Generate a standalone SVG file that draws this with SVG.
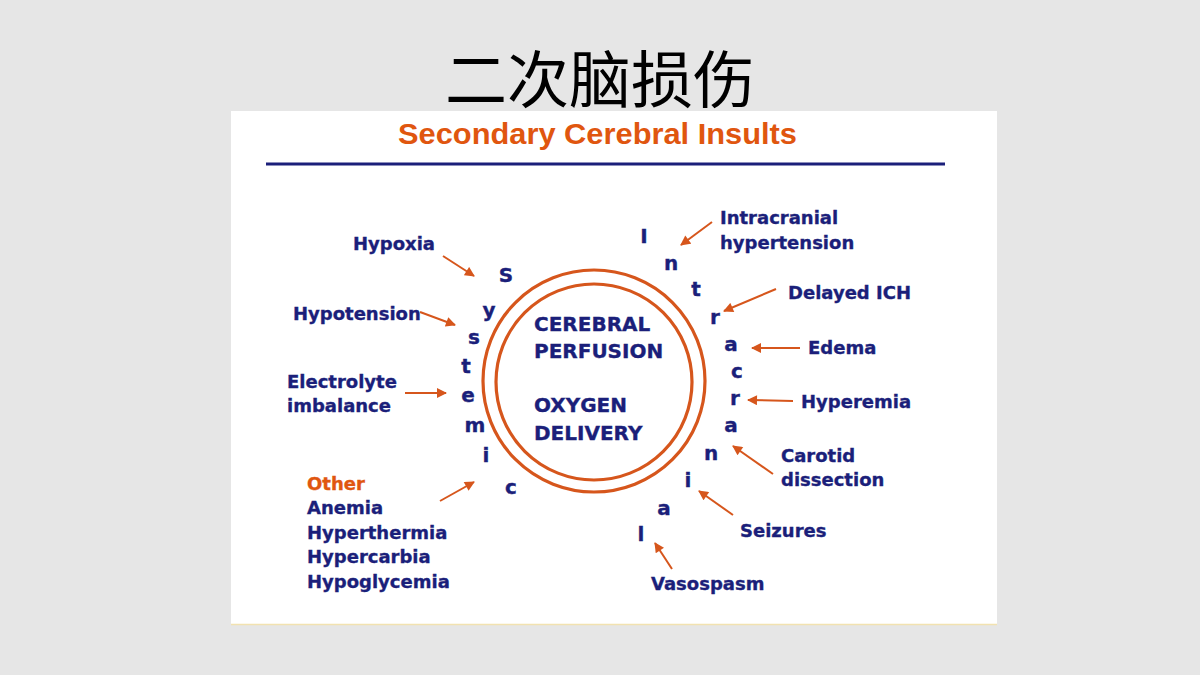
<svg xmlns="http://www.w3.org/2000/svg" width="1200" height="675" viewBox="0 0 1200 675">
<defs>
<style>
.lbl{font-family:"DejaVu Sans","Verdana",sans-serif;font-weight:bold;font-size:18px;fill:#1b1f7a;stroke:#1b1f7a;stroke-width:0.35}
.let{font-family:"DejaVu Sans","Verdana",sans-serif;font-weight:bold;font-size:20px;fill:#1b1f7a;stroke:#1b1f7a;stroke-width:0.35;text-anchor:middle}
.core{font-family:"DejaVu Sans","Verdana",sans-serif;font-weight:bold;font-size:20px;fill:#1b1f7a;stroke:#1b1f7a;stroke-width:0.35}
.arr{stroke:#d6561c;stroke-width:2;fill:none;marker-end:url(#ah)}
.ring{stroke:#d6561c;stroke-width:3.2;fill:none}
</style>
<marker id="ah" viewBox="0 0 10 10" refX="9" refY="5" markerWidth="5.5" markerHeight="5" orient="auto" markerUnits="strokeWidth">
<path d="M0,0 L10,5 L0,10 z" fill="#d6561c"/>
</marker>
</defs>
<rect x="0" y="0" width="1200" height="675" fill="#e6e6e6"/>
<text x="600" y="103" text-anchor="middle" font-family="'Noto Sans CJK SC','Noto Sans CJK JP',sans-serif" font-size="62" fill="#000">二次脑损伤</text>
<rect x="231" y="111" width="766" height="514" fill="#ffffff"/>
<line x1="231" y1="624.5" x2="997" y2="624.5" stroke="#f2e2b0" stroke-width="1.5"/>
<text x="398" y="144" font-family="'Liberation Sans',Arial,sans-serif" font-weight="bold" font-size="29" fill="#e0560f" textLength="399" lengthAdjust="spacingAndGlyphs">Secondary Cerebral Insults</text>
<line x1="266" y1="164" x2="945" y2="164" stroke="#1b1f7a" stroke-width="3"/>

<g id="core">
<circle class="ring" cx="594" cy="381" r="111"/>
<circle class="ring" cx="594" cy="382" r="98"/>
<text class="core" x="534" y="331">CEREBRAL</text>
<text class="core" x="534" y="358">PERFUSION</text>
<text class="core" x="534" y="412">OXYGEN</text>
<text class="core" x="534" y="440">DELIVERY</text>
</g>

<g id="systemic">
<text class="let" x="506" y="282">S</text>
<text class="let" x="489" y="317">y</text>
<text class="let" x="474" y="344">s</text>
<text class="let" x="466" y="373">t</text>
<text class="let" x="468" y="402">e</text>
<text class="let" x="475" y="432">m</text>
<text class="let" x="486" y="462">i</text>
<text class="let" x="511" y="494">c</text>
</g>

<g id="intracranial">
<text class="let" x="644" y="243">I</text>
<text class="let" x="671" y="270">n</text>
<text class="let" x="696" y="296">t</text>
<text class="let" x="715" y="324">r</text>
<text class="let" x="731" y="351">a</text>
<text class="let" x="737" y="378">c</text>
<text class="let" x="735" y="405">r</text>
<text class="let" x="731" y="432">a</text>
<text class="let" x="711" y="460">n</text>
<text class="let" x="688" y="487">i</text>
<text class="let" x="664" y="515">a</text>
<text class="let" x="641" y="541">l</text>
</g>

<g id="label-hypoxia"><text class="lbl" x="353" y="250">Hypoxia</text></g>
<g id="label-hypotension"><text class="lbl" x="293" y="320">Hypotension</text></g>
<g id="label-electrolyte"><text class="lbl" x="287" y="388">Electrolyte</text><text class="lbl" x="287" y="412">imbalance</text></g>
<g id="label-other">
<text class="lbl" x="307" y="490" style="fill:#e0560f;stroke:#e0560f">Other</text>
<text class="lbl" x="307" y="514">Anemia</text>
<text class="lbl" x="307" y="539">Hyperthermia</text>
<text class="lbl" x="307" y="563">Hypercarbia</text>
<text class="lbl" x="307" y="588">Hypoglycemia</text>
</g>
<g id="label-icp"><text class="lbl" x="720" y="224">Intracranial</text><text class="lbl" x="720" y="249">hypertension</text></g>
<g id="label-ich"><text class="lbl" x="788" y="299">Delayed ICH</text></g>
<g id="label-edema"><text class="lbl" x="808" y="354">Edema</text></g>
<g id="label-hyperemia"><text class="lbl" x="801" y="408">Hyperemia</text></g>
<g id="label-carotid"><text class="lbl" x="781" y="462">Carotid</text><text class="lbl" x="781" y="486">dissection</text></g>
<g id="label-seizures"><text class="lbl" x="740" y="537">Seizures</text></g>
<g id="label-vasospasm"><text class="lbl" x="651" y="590">Vasospasm</text></g>

<g id="connectors">
<line class="arr" x1="443" y1="256" x2="474" y2="276"/>
<line class="arr" x1="420" y1="312" x2="455" y2="325"/>
<line class="arr" x1="405" y1="393" x2="446" y2="393"/>
<line class="arr" x1="440" y1="501" x2="474" y2="482"/>
<line class="arr" x1="712" y1="222" x2="681" y2="245"/>
<line class="arr" x1="776" y1="289" x2="724" y2="311"/>
<line class="arr" x1="800" y1="348" x2="752" y2="348"/>
<line class="arr" x1="793" y1="401" x2="748" y2="400"/>
<line class="arr" x1="773" y1="474" x2="733" y2="446"/>
<line class="arr" x1="733" y1="515" x2="699" y2="491"/>
<line class="arr" x1="672" y1="569" x2="655" y2="543"/>
</g>
</svg>
